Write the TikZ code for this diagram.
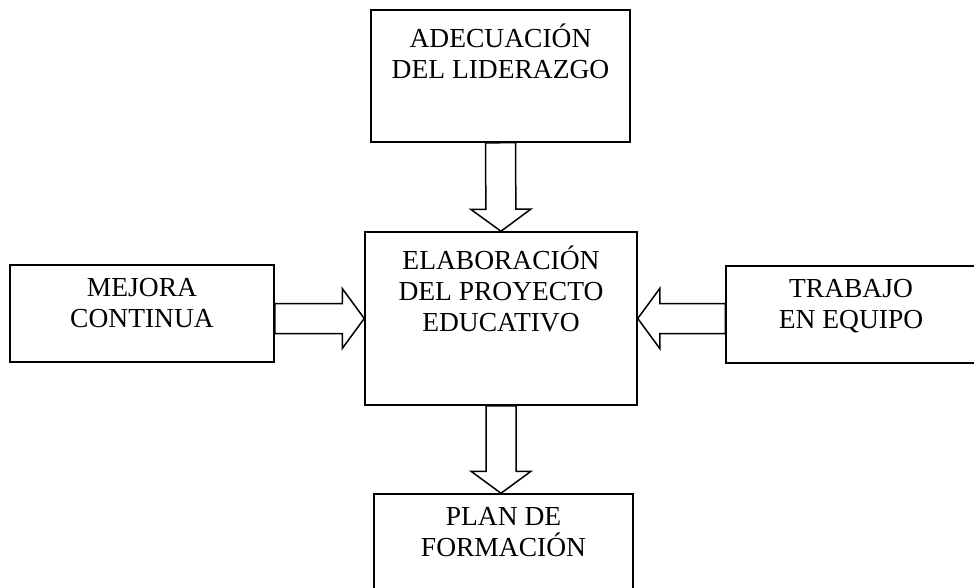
\documentclass[tikz,border=0pt]{standalone}
\usepackage{fontspec}
\setmainfont{Liberation Serif}
\usetikzlibrary{calc}

% flecha de bloque entre dos puntos con nombre
\newcommand{\flechagruesa}[2]{%
  \coordinate (fb) at ($(#2)!22pt!(#1)$);
  \draw[flecha] ($(#1)!15pt!90:(#2)$) -- ($(fb)!15pt!90:(#2)$) -- ($(fb)!30pt!90:(#2)$)
    -- (#2) -- ($(fb)!30pt!-90:(#2)$) -- ($(fb)!15pt!-90:(#2)$) -- ($(#1)!15pt!-90:(#2)$) -- cycle;}

\begin{document}
\begin{tikzpicture}[x=1pt,y=-1pt]
\tikzstyle{caja}=[draw, rectangle, line width=1.5pt, inner sep=0pt]
\tikzstyle{flecha}=[line width=1.5pt]
\tikzstyle{rotulo}=[anchor=north, align=center, inner sep=0pt, yshift=-14pt,
  font=\fontsize{27.5}{31}\selectfont, execute at begin node={\vphantom{Ó}}]

\useasboundingbox (0,0) rectangle (974,588);

\node[caja, minimum width=259pt, minimum height=132pt,
  label={[rotulo]north:{ADECUACIÓN\\DEL LIDERAZGO}}](liderazgo) at (500.5,76){};
\node[caja, minimum width=272pt, minimum height=173pt,
  label={[rotulo]north:{ELABORACIÓN\\DEL PROYECTO\\EDUCATIVO}}](proyecto) at (501,318.5){};
\node[caja, minimum width=264pt, minimum height=97pt,
  label={[rotulo]north:{MEJORA\\CONTINUA}}](mejora) at (142,313.5){};
\node[caja, minimum width=250pt, minimum height=97pt,
  label={[rotulo]north:{TRABAJO\\EN EQUIPO}}](equipo) at (851,314.5){};
\node[caja, minimum width=259pt, minimum height=97pt,
  label={[rotulo]north:{PLAN DE\\FORMACIÓN}}](plan) at (503.5,542.5){};

\coordinate (m1) at (mejora.east |- proyecto.west);
\coordinate (e1) at (equipo.west |- proyecto.east);

\flechagruesa{liderazgo.south}{proyecto.north}
\flechagruesa{m1}{proyecto.west}
\flechagruesa{e1}{proyecto.east}
\flechagruesa{proyecto.south}{proyecto.south |- plan.north}
\end{tikzpicture}
\end{document}
